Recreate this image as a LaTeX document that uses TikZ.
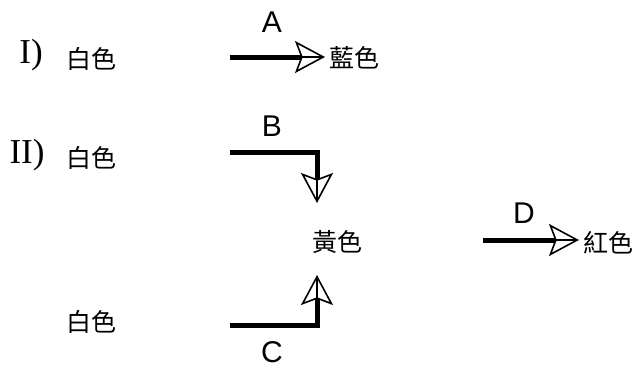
\documentclass[tikz,border=0pt]{standalone}
\usepackage{fontspec}
\setmainfont{Liberation Serif}
\newfontfamily\cjk{Noto Sans CJK TC}
\newfontfamily\labfont{Liberation Sans}
\usetikzlibrary{arrows.meta}
\tikzset{
  zh/.style={inner sep=0pt, font=\cjk\fontsize{25}{25}\selectfont},
  rn/.style={inner sep=0pt, font=\fontsize{35}{35}\selectfont},
  lab/.style={inner sep=0pt, font=\labfont\fontsize{30}{30}\selectfont},
  conn/.style={line width=5pt, -{Stealth[open, length=30pt, width=32pt, inset=6pt, line width=1.6pt]}},
  inner/.style={line width=2.5pt}
}
\begin{document}
\begin{tikzpicture}[x=1pt,y=-1pt]
\useasboundingbox (0,0) rectangle (637,370);
% row I
\node[rn] (r1) at (31,55) {I)};
\node[zh] (w1) at (91,59) {白色};
\node[zh] (blue) at (354,58) {藍色};
\coordinate (a0) at (230,57);
\coordinate (atip) at (325,57);
\coordinate (abase) at (300,57);
\node[lab] (la) at (272,22) {A};
\draw[conn] (a0) -- (atip);
\draw[inner] (abase) -- (321,57);
% row II
\node[rn] (r2) at (27,155) {II)};
\node[zh] (w2) at (91,158) {白色};
\node[zh] (yellow) at (337,242) {黃色};
\coordinate (b0) at (230,152);
\coordinate (bc) at (317,152);
\coordinate (btip) at (317,203);
\coordinate (bbase) at (317,177);
\node[lab] (lb) at (272,126) {B};
\draw[conn] (b0) -- (bc) -- (btip);
\draw[inner] (bbase) -- (317,199);
% row III
\node[zh] (w3) at (91,322) {白色};
\coordinate (c0) at (230,325);
\coordinate (cc) at (317,325);
\coordinate (ctip) at (317,275);
\coordinate (cbase) at (317,301);
\node[lab] (lc) at (272,352) {C};
\draw[conn] (c0) -- (cc) -- (ctip);
\draw[inner] (cbase) -- (317,279);
% D
\node[zh] (red) at (608,243) {紅色};
\coordinate (d0) at (483,240);
\coordinate (dtip) at (579,240);
\coordinate (dbase) at (554,240);
\node[lab] (ld) at (524,213) {D};
\draw[conn] (d0) -- (dtip);
\draw[inner] (dbase) -- (575,240);
\end{tikzpicture}
\end{document}
